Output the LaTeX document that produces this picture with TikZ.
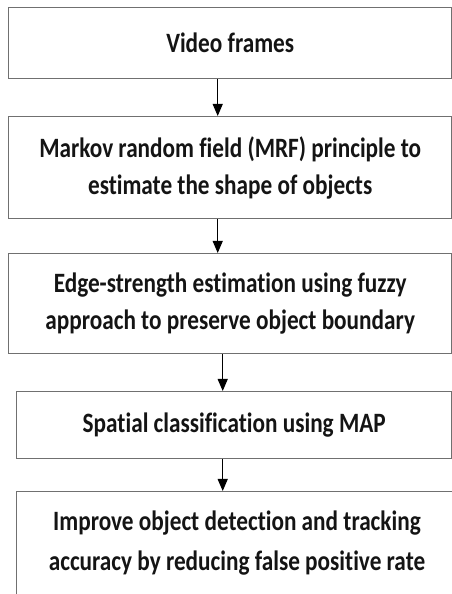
\documentclass[tikz,border=0pt]{standalone}
\usepackage{fontspec}
\setmainfont{Carlito}[FakeStretch=0.83, Ligatures=NoCommon]
\usetikzlibrary{arrows.meta}
\definecolor{boxline}{HTML}{707070}
\definecolor{ink}{HTML}{141414}
\tikzset{
  stage/.style={draw=boxline, line width=1.4pt, fill=white, anchor=north west,
    inner sep=0pt, align=center, text=ink,
    font=\bfseries\fontsize{28}{37}\selectfont},
  flow/.style={-{Triangle[length=12pt,width=10pt]}, line width=1pt, draw=black}
}
\begin{document}
\begin{tikzpicture}[x=1pt,y=1pt]
  \useasboundingbox[fill=white] (0,0) rectangle (452,594);
  \clip (0,0) rectangle (452,594);

  % process stages, top to bottom
  \node[stage, minimum width=443pt, minimum height=71pt] (b1) at (8,587)
    {Video frames};
  \node[stage, minimum width=443pt, minimum height=102pt] (b2) at (8,478)
    {Markov random field (MRF) principle to\\estimate the shape of objects};
  \node[stage, minimum width=443pt, minimum height=100pt] (b3) at (8,341)
    {Edge-strength estimation using fuzzy\\approach to preserve object boundary};
  \node[stage, minimum width=435pt, minimum height=67pt] (b4) at (16,203)
    {Spatial classification using MAP};
  \node[stage, minimum width=443pt, minimum height=140pt] (b5) at (16,103)
    {};
  \node[align=center, text=ink, font=\bfseries\fontsize{28}{40}\selectfont, anchor=center]
    (t5) at (237,51) {Improve object detection and tracking\\accuracy by reducing false positive rate};

  % connectors
  \draw[flow] ([xshift=-12.5pt]b1.south) -- ([xshift=-12.5pt]b1.south |- b2.north);
  \draw[flow] ([xshift=-12.5pt]b2.south) -- ([xshift=-12.5pt]b2.south |- b3.north);
  \draw[flow] ([xshift=-7.5pt]b3.south) -- ([xshift=-7.5pt]b3.south |- b4.north);
  \draw[flow] ([xshift=-11.5pt]b4.south) -- ([xshift=-11.5pt]b4.south |- b5.north);
\end{tikzpicture}
\end{document}
